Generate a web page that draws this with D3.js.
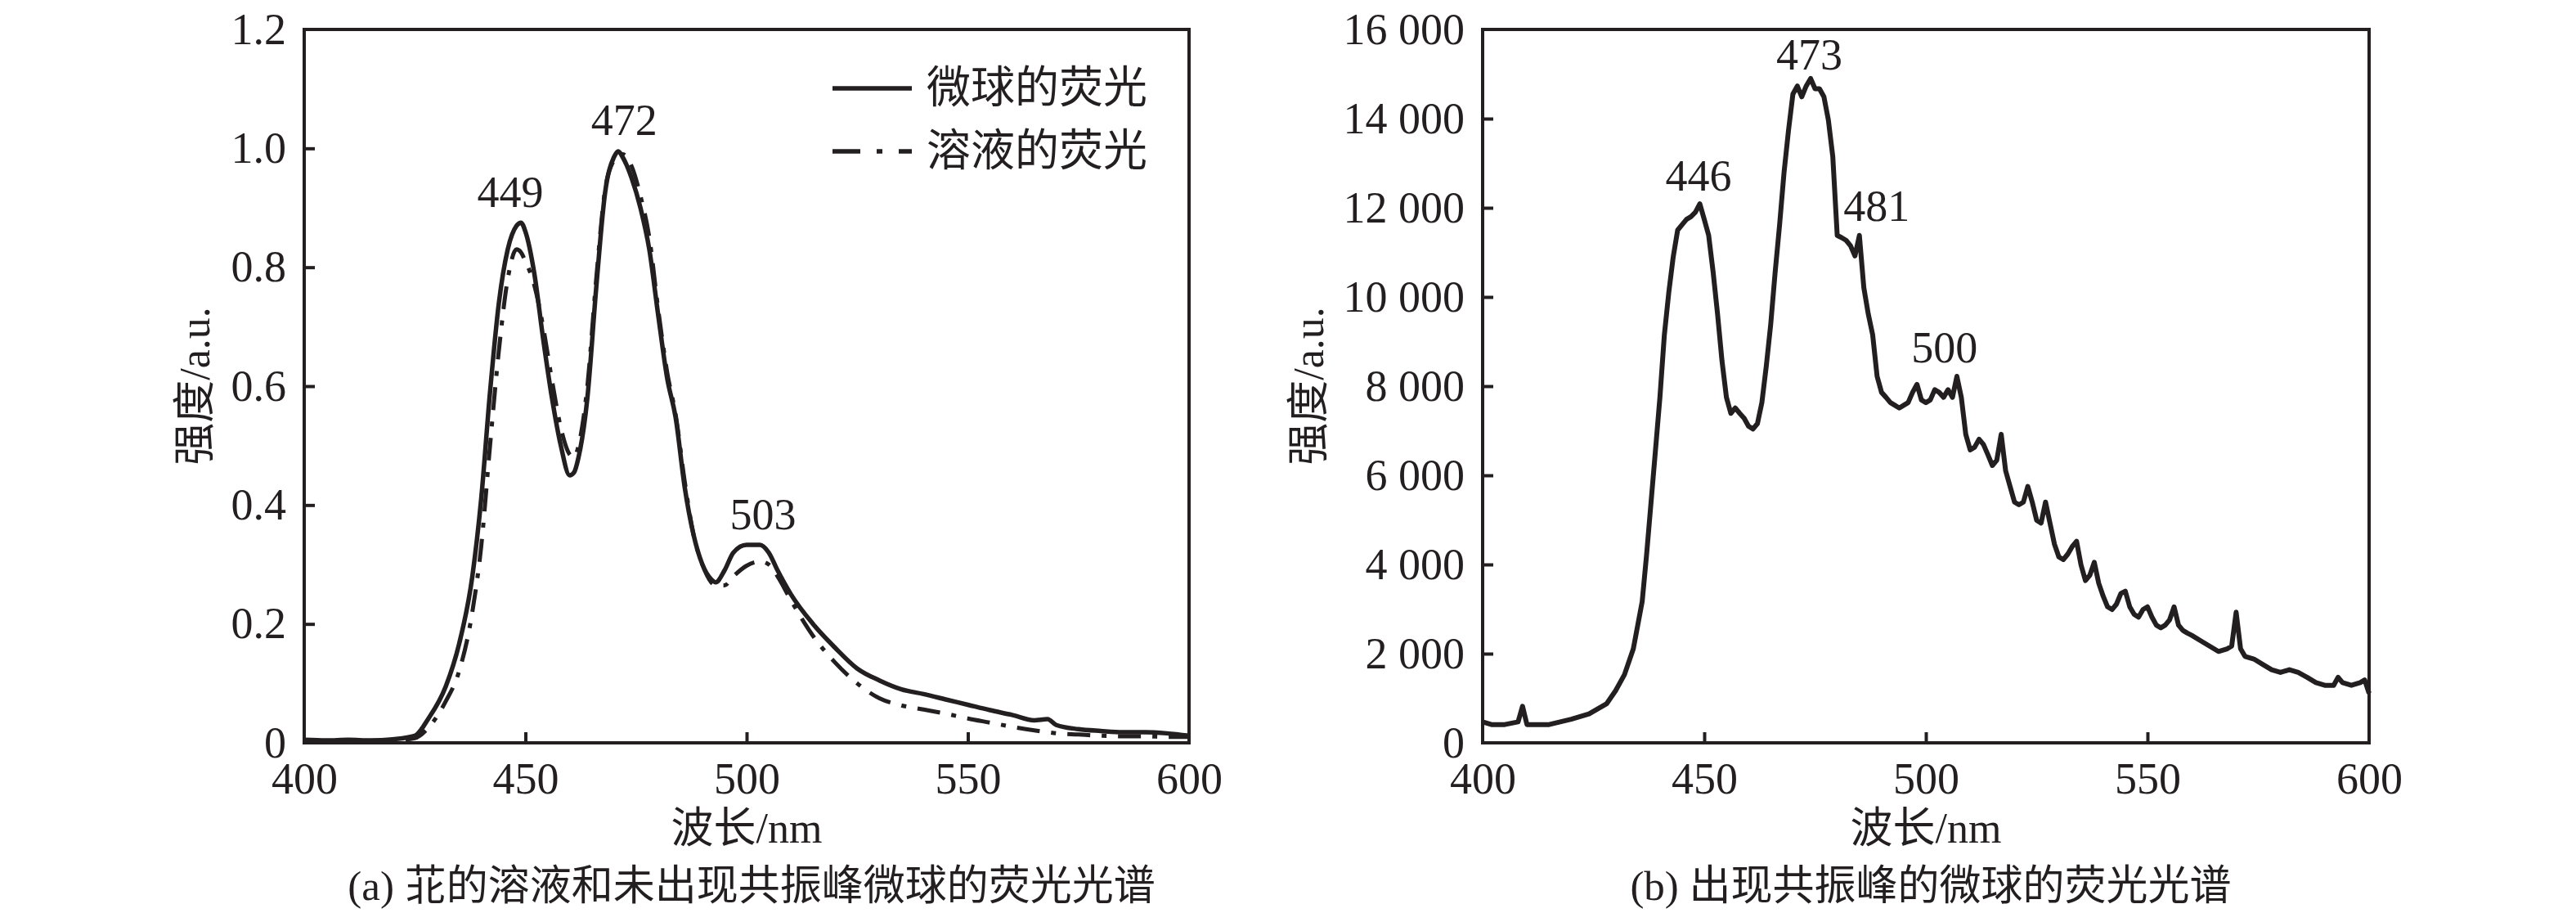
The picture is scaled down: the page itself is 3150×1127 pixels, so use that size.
<!DOCTYPE html>
<html>
<head>
<meta charset="utf-8">
<script src="https://cdn.jsdelivr.net/npm/d3@7"></script>
<style>
  body { margin: 0; background: #fff; }
  svg { display: block; }
</style>
</head>
<body>
<svg></svg>
<script>
// two fluorescence spectra panels, side by side

const width = 3150;
const height = 1127;
const ink = "#231f20";
const serif = "'Liberation Serif', 'Times New Roman', 'Noto Sans CJK SC', serif";

// panel (a): wavelengths and two normalised series
const waveA = [400, 405, 410, 415, 420, 425, 428, 432, 435, 438, 440, 442, 444, 446, 448, 449, 450, 452, 454, 456, 458, 460, 461, 462, 464, 466, 468, 470, 471, 472, 474, 476, 478, 480, 482, 484, 486, 488, 490, 492, 493, 495, 497, 500, 503, 505, 507, 510, 515, 520, 525, 530, 535, 540, 545, 550, 555, 560, 565, 568, 570, 575, 580, 585, 590, 595, 600];
const sphereA = [0.005, 0.004, 0.005, 0.004, 0.006, 0.012, 0.04, 0.095, 0.166, 0.28, 0.41, 0.59, 0.74, 0.83, 0.87, 0.875, 0.86, 0.79, 0.68, 0.58, 0.50, 0.45, 0.455, 0.48, 0.58, 0.765, 0.925, 0.985, 0.995, 0.985, 0.95, 0.90, 0.83, 0.72, 0.615, 0.545, 0.43, 0.35, 0.30, 0.275, 0.27, 0.29, 0.32, 0.333, 0.333, 0.32, 0.29, 0.25, 0.20, 0.16, 0.125, 0.105, 0.09, 0.082, 0.073, 0.064, 0.055, 0.047, 0.038, 0.040, 0.03, 0.023, 0.02, 0.018, 0.018, 0.016, 0.012];
const solutionA = [0.003, 0.003, 0.003, 0.003, 0.004, 0.008, 0.025, 0.07, 0.12, 0.22, 0.33, 0.50, 0.66, 0.78, 0.83, 0.825, 0.81, 0.77, 0.70, 0.61, 0.53, 0.485, 0.48, 0.50, 0.60, 0.78, 0.93, 0.98, 0.99, 0.99, 0.97, 0.92, 0.85, 0.73, 0.625, 0.55, 0.44, 0.35, 0.30, 0.27, 0.265, 0.265, 0.28, 0.298, 0.305, 0.30, 0.28, 0.24, 0.18, 0.135, 0.10, 0.075, 0.063, 0.056, 0.049, 0.041, 0.034, 0.027, 0.021, 0.018, 0.016, 0.014, 0.012, 0.011, 0.011, 0.010, 0.010];
const yTicksA = [0, 0.2, 0.4, 0.6, 0.8, 1.0, 1.2];
const peaksA = [
  { text: "449", nm: 446.6, v: 0.901 },
  { text: "472", nm: 472.3, v: 1.022 },
  { text: "503", nm: 503.7, v: 0.359 }
];

// panel (b): microsphere with resonance peaks
const waveB = [400, 402, 405, 408, 409, 410, 415, 420, 424, 428, 430, 432, 434, 436, 437, 438, 439, 440, 441, 442, 443, 444, 445, 446, 447, 448, 449, 450, 451, 452, 453, 454, 455, 456, 457, 458, 459, 460, 461, 462, 463, 464, 465, 466, 467, 468, 469, 470, 471, 472, 473, 474, 475, 476, 477, 478, 479, 480, 481, 482, 483, 484, 485, 486, 487, 488, 489, 490, 491, 492, 493, 494, 495, 496, 497, 498, 499, 500, 501, 502, 503, 504, 505, 506, 507, 508, 509, 510, 511, 512, 513, 514, 515, 516, 517, 518, 519, 520, 521, 522, 523, 524, 525, 526, 527, 528, 529, 530, 531, 532, 533, 534, 535, 536, 537, 538, 539, 540, 541, 542, 543, 544, 545, 546, 547, 548, 549, 550, 551, 552, 553, 554, 555, 556, 557, 558, 559, 560, 562, 564, 566, 568, 569, 570, 571, 572, 574, 576, 578, 580, 582, 584, 586, 588, 590, 592, 593, 594, 596, 598, 599, 600];
const sphereB = [470, 410, 410, 470, 820, 410, 410, 530, 650, 880, 1170, 1530, 2110, 3170, 4230, 5400, 6570, 7750, 9150, 10100, 10900, 11500, 11620, 11740, 11800, 11900, 12090, 11740, 11380, 10560, 9620, 8570, 7750, 7390, 7510, 7390, 7280, 7100, 7040, 7160, 7630, 8450, 9390, 10560, 11620, 12790, 13730, 14550, 14730, 14490, 14730, 14900, 14670, 14670, 14490, 13970, 13150, 11380, 11330, 11270, 11150, 10920, 11380, 10210, 9620, 9150, 8220, 7860, 7750, 7630, 7570, 7510, 7570, 7630, 7860, 8040, 7690, 7630, 7690, 7920, 7860, 7750, 7920, 7750, 8220, 7750, 6920, 6570, 6630, 6810, 6690, 6460, 6220, 6340, 6920, 6100, 5750, 5400, 5340, 5400, 5750, 5400, 4990, 4930, 5400, 4930, 4460, 4170, 4110, 4230, 4400, 4520, 3990, 3640, 3760, 4050, 3580, 3290, 3050, 2990, 3110, 3350, 3400, 3050, 2880, 2820, 2990, 3050, 2820, 2640, 2580, 2640, 2760, 3050, 2640, 2520, 2460, 2410, 2290, 2170, 2050, 2110, 2170, 2930, 2110, 1940, 1880, 1760, 1640, 1580, 1640, 1580, 1470, 1350, 1290, 1290, 1470, 1350, 1290, 1350, 1410, 1110];
const yTicksB = [0, 2000, 4000, 6000, 8000, 10000, 12000, 14000, 16000];
const peaksB = [
  { text: "446", nm: 448.7, v: 12385 },
  { text: "473", nm: 473.7, v: 15100 },
  { text: "481", nm: 488.9, v: 11706 },
  { text: "500", nm: 504.2, v: 8532 }
];

const xTicks = [400, 450, 500, 550, 600];
const legendNames = ["微球的荧光", "溶液的荧光"];

let canvas = d3.select("svg")
    .attr("width", width)
    .attr("height", height);

function fmtA(d) { return d === 0 ? "0" : d.toFixed(1); }
function fmtB(d) {
  if (d === 0) return "0";
  const s = String(d);
  return s.slice(0, s.length - 3) + " " + s.slice(-3);
}

function panel(left, right, yMax, yTicks, fmt, titleX, caption) {
  const top = 36, bottom = 908;
  const x = d3.scaleLinear().domain([400, 600]).range([left, right]);
  const y = d3.scaleLinear().domain([0, yMax]).range([bottom, top]);
  const g = canvas.append("g");

  const xAxis = g.append("g")
      .attr("transform", `translate(0,${bottom})`)
      .call(d3.axisBottom(x).tickValues(xTicks).tickSizeInner(-13).tickSizeOuter(0).tickPadding(24));
  const yAxis = g.append("g")
      .attr("transform", `translate(${left},0)`)
      .call(d3.axisLeft(y).tickValues(yTicks).tickFormat(fmt).tickSizeInner(-13).tickSizeOuter(0).tickPadding(22));

  [xAxis, yAxis].forEach(a => {
    a.select(".domain").remove();
    a.selectAll(".tick line").attr("stroke", ink).attr("stroke-width", 4);
    a.selectAll(".tick text")
        .attr("fill", ink)
        .attr("font-family", serif)
        .attr("font-size", 54);
  });
  // drop the end ticks that sit on the frame
  xAxis.selectAll(".tick line").filter(d => d === 400 || d === 600).remove();
  yAxis.selectAll(".tick line").filter(d => d === 0 || d === yMax).remove();

  g.append("rect")
      .attr("x", left).attr("y", top)
      .attr("width", right - left).attr("height", bottom - top)
      .attr("fill", "none").attr("stroke", ink).attr("stroke-width", 4);

  g.append("g")
      .attr("transform", `translate(${titleX},${(top + bottom) / 2})`)
    .append("text")
      .attr("transform", "rotate(-90)")
      .attr("text-anchor", "middle")
      .attr("dy", "0.35em")
      .attr("font-family", serif).attr("font-size", 52).attr("fill", ink)
      .text("强度/a.u.");

  g.append("text")
      .attr("x", (left + right) / 2).attr("y", 1030)
      .attr("text-anchor", "middle")
      .attr("font-family", serif).attr("font-size", 52).attr("fill", ink)
      .text("波长/nm");

  g.append("text")
      .attr("x", (left + right) / 2 + 6).attr("y", 1100)
      .attr("text-anchor", "middle")
      .attr("font-family", serif).attr("font-size", 51).attr("fill", ink)
      .text(caption);

  return { g, x, y };
}

// ---- panel a
const pa = panel(372, 1454, 1.2, yTicksA, fmtA, 238, "(a) 苝的溶液和未出现共振峰微球的荧光光谱");

const lineA = d3.line()
    .x(d => pa.x(d[0]))
    .y(d => pa.y(d[1]))
    .curve(d3.curveMonotoneX);

pa.g.append("path")
    .datum(d3.zip(waveA, solutionA))
    .attr("d", lineA)
    .attr("fill", "none").attr("stroke", ink).attr("stroke-width", 5)
    .attr("stroke-dasharray", "28,14,6,14");

pa.g.append("path")
    .datum(d3.zip(waveA, sphereA))
    .attr("d", lineA)
    .attr("fill", "none").attr("stroke", ink).attr("stroke-width", 5.5);

pa.g.selectAll(".peak")
    .data(peaksA)
    .enter().append("text")
    .attr("x", d => pa.x(d.nm)).attr("y", d => pa.y(d.v))
    .attr("text-anchor", "middle")
    .attr("font-family", serif).attr("font-size", 54).attr("fill", ink)
    .text(d => d.text);

// legend
const legend = pa.g.selectAll(".legend")
    .data(legendNames)
    .enter().append("g")
    .attr("transform", (d, i) => `translate(1018,${108 + i * 77})`);

legend.append("line")
    .attr("x1", 0).attr("x2", 97)
    .attr("stroke", ink).attr("stroke-width", 5.5)
    .attr("stroke-dasharray", (d, i) => i === 0 ? null : "34,20,7,20,18");

legend.append("text")
    .attr("x", 115)
    .attr("dominant-baseline", "central")
    .attr("font-family", serif).attr("font-size", 54).attr("fill", ink)
    .text(d => d);

// ---- panel b
const pb = panel(1813, 2897, 16000, yTicksB, fmtB, 1600, "(b) 出现共振峰的微球的荧光光谱");

const lineB = d3.line()
    .x(d => pb.x(d[0]))
    .y(d => pb.y(d[1]));

pb.g.append("path")
    .datum(d3.zip(waveB, sphereB))
    .attr("d", lineB)
    .attr("fill", "none").attr("stroke", ink).attr("stroke-width", 6)
    .attr("stroke-linejoin", "round");

pb.g.selectAll(".peak")
    .data(peaksB)
    .enter().append("text")
    .attr("x", d => pb.x(d.nm)).attr("y", d => pb.y(d.v))
    .attr("text-anchor", "middle")
    .attr("font-family", serif).attr("font-size", 54).attr("fill", ink)
    .text(d => d.text);
</script>
</body>
</html>
